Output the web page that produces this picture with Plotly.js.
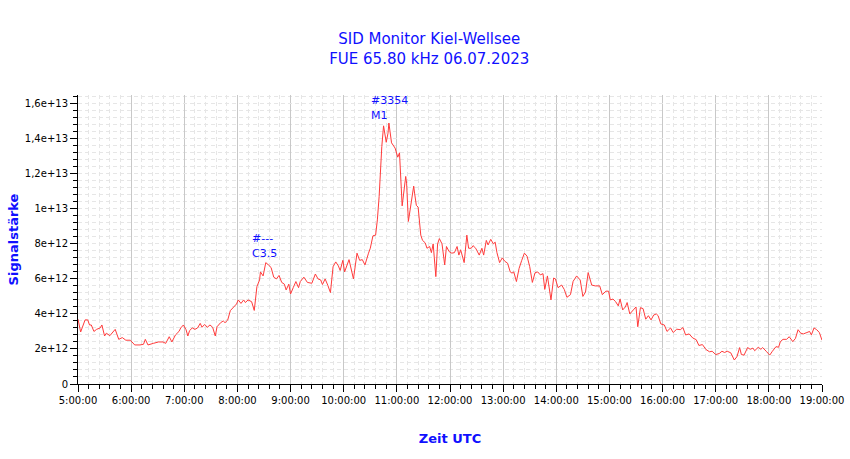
<!DOCTYPE html>
<html>
<head>
<meta charset="utf-8">
<script src="https://cdn.plot.ly/plotly-3.0.1.min.js"></script>
<style>html,body{margin:0;padding:0;background:#fff;}#chart{width:850px;height:459px;}</style>
</head>
<body>
<div id="chart"></div>
<script>
// time in minutes since 00:00 UTC, 06.07.2023
const minutes = [
300,303,308,311,313,315,318,321,325,327,330,332,336,339,342,346,350,354,359,361,364,370,374,376,379,385,391,396,399,403,406,410,414,416,419,422,424,426,429,432,435,438,440,443,446,449,452,455,457,461,464,466,469,472,475,479,481,484,487,489,492,496,499,502,505,506,509,512,515,518,521,524,527,530,533,535,538,540,543,546,549,
551,555,559,564,568,571,574,576,579,582,585,588,591,594,596,599,601,606,611,615,618,621,624,628,630,633,636,638,640,643,645,648,650,651,654,658,661,663,666,670,671,673,676,679,680,682,684,687,689,692,694,697,699,701,704,706,708,711,714,716,719,722,725,728,730,732,736,739,741,744,746,749,753,756,758,761,763,766,769,771,773,776,779,782,785,788,790,792,795,798,801,804,807,810,813,816,819,
822,825,827,830,832,834,837,839,842,846,849,852,856,859,863,867,870,873,876,880,884,889,892,896,899,901,904,907,910,912,915,918,920,923,927,930,932,935,938,941,944,947,950,953,955,958,962,965,969,972,976,980,983,986,990,994,998,1001,1005,1009,1013,1016,1020,1024,1027,1030,1033,1037,1041,1044,1047,1049,1052,1056,1059,1062,1064,1068,1071,1073,1077,1081,1084,1088,1091,1093,1096,1100,1103,1107,1110,1113,1116,1119,1123,1126,1128,1131,1134,1137,1140
];
// signal strength in units of 1e12
const valuesE12 = [
3.7,2.97,3.66,3.66,3.37,3.37,3.0,3.12,3.2,3.37,2.74,2.9,2.76,2.97,3.12,2.55,2.65,2.5,2.5,2.4,2.23,2.23,2.27,2.55,2.23,2.32,2.4,2.4,2.32,2.7,2.4,2.8,3.0,3.2,3.37,3.1,2.74,3.05,3.2,3.12,3.2,3.46,3.24,3.4,3.24,3.37,3.24,2.74,3.27,3.5,3.6,3.5,3.65,4.19,4.38,4.57,4.8,4.6,4.8,4.65,4.8,4.7,4.2,5.56,5.94,6.4,6.17,6.93,6.8,6.65,6.1,6.0,6.2,5.8,5.7,5.37,5.7,5.14,5.5,5.85,5.5,
5.85,6.1,5.8,5.75,6.28,6.0,5.94,5.68,6.0,5.64,5.22,6.7,6.97,6.74,6.48,7.06,6.4,7.1,6.0,7.47,7.06,7.1,6.8,7.47,7.75,8.46,8.5,9.37,10.7,13.56,14.74,13.8,14.32,14.9,13.77,13.47,12.95,13.2,10.17,11.85,11.47,9.28,10.4,11.3,10.9,10.2,10.1,8.5,8.2,8.06,7.75,7.85,7.5,8.0,6.13,8.0,8.3,8.0,6.8,7.85,7.56,7.47,7.5,7.85,7.36,7.66,6.93,8.5,7.75,7.75,7.9,7.75,7.36,7.75,7.36,8.2,7.94,8.26,8.0,8.1,7.5,6.93,7.2,7.0,6.9,6.4,6.33,6.4,5.85,6.6,7.06,7.47,7.3,6.7,5.8,6.35,6.4,
6.23,6.3,5.4,6.17,5.46,4.8,6.05,6.0,5.5,5.65,5.4,4.95,5.1,5.86,6.17,5.94,5.0,5.25,6.36,5.65,5.6,5.6,5.1,5.3,5.3,4.8,4.85,4.7,4.46,4.85,4.23,4.4,4.65,4.0,4.23,4.4,3.27,4.36,4.3,3.7,3.9,3.66,3.94,4.0,3.9,3.43,3.37,3.0,3.2,2.94,3.13,3.1,3.22,2.8,2.86,2.63,2.53,2.2,2.25,1.97,1.84,1.87,1.68,1.74,1.87,1.8,1.87,1.78,1.37,1.56,2.08,1.68,1.65,2.08,1.98,2.05,1.9,2.1,1.98,2.08,1.87,1.65,1.87,2.13,2.1,2.42,2.55,2.55,2.7,2.42,2.6,3.1,2.9,2.86,2.94,3.0,2.8,3.2,3.1,2.94,2.5
];
const yTickVals = [0,2e12,4e12,6e12,8e12,1e13,1.2e13,1.4e13,1.6e13];
const yTickText = ['0','2e+12','4e+12','6e+12','8e+12','1e+13','1,2e+13','1,4e+13','1,6e+13'];
// flare labels: start minute, value of upper line, lines
const flareMinutes = [494, 629];
const flareValues = [8.29e12, 16.17e12];
const flareIds = ['#---', '#3354'];
const flareClasses = ['C3.5', 'M1'];

function toTime(m) {
  const h = Math.floor(m / 60), mm = Math.round(m % 60);
  return '2023-07-06 ' + String(h).padStart(2,'0') + ':' + String(mm).padStart(2,'0') + ':00';
}
const xs = minutes.map(toTime);
const ys = valuesE12.map(v => v * 1e12);

const blue = '#1010ff';
const annotations = [];
flareMinutes.forEach((m, i) => {
  annotations.push({x: toTime(m), y: flareValues[i], xref:'x', yref:'y', text: flareIds[i], showarrow:false,
    xanchor:'left', yanchor:'middle', font:{family:'DejaVu Sans', size:11, color:blue}});
  annotations.push({x: toTime(m), y: flareValues[i] - 0.86e12, xref:'x', yref:'y', text: flareClasses[i], showarrow:false,
    xanchor:'left', yanchor:'middle', font:{family:'DejaVu Sans', size:11, color:blue}});
});

const trace = {x: xs, y: ys, type:'scatter', mode:'lines', line:{color:'#ff3b3b', width:1}, hoverinfo:'skip'};

const gridLight = '#e6e6e6';
const layout = {
  width: 850, height: 459,
  margin: {l:78, r:28, t:95, b:75},
  paper_bgcolor:'#fff', plot_bgcolor:'#fff',
  showlegend:false,
  title: {text:'SID Monitor Kiel-Wellsee<br>FUE 65.80 kHz 06.07.2023', xref:'container', x:0.505, xanchor:'center',
    yref:'container', y:1 - 44/459, yanchor:'middle', font:{family:'DejaVu Sans', size:15, color:blue}},
  xaxis: {
    type:'date', range:[toTime(300), toTime(1140)], dtick:3600000, tick0:toTime(300), tickformat:'%-H:%M:%S',
    showline:true, linecolor:'#000', linewidth:1, ticks:'outside', ticklen:7, tickcolor:'#000',
    tickfont:{family:'DejaVu Sans', size:10, color:'#000'},
    showgrid:true, gridcolor:'#c8c8c8', gridwidth:1, zeroline:false,
    minor:{dtick:720000, ticks:'outside', ticklen:4, tickcolor:'#000', showgrid:true, gridcolor:gridLight, griddash:'4px,3px'},
    title:{text:'Zeit UTC', font:{family:'DejaVu Sans', size:13, color:blue, weight:'bold'}, standoff:28},
    fixedrange:true
  },
  yaxis: {
    range:[0, 1.65e13], tickvals:yTickVals, ticktext:yTickText,
    showline:true, linecolor:'#000', linewidth:1, ticks:'outside', ticklen:7, tickcolor:'#000',
    tickfont:{family:'DejaVu Sans', size:10, color:'#000'},
    showgrid:true, gridcolor:gridLight, griddash:'4px,3px', zeroline:false,
    minor:{dtick:4e11, tick0:0, ticks:'outside', ticklen:4, tickcolor:'#000', showgrid:true, gridcolor:gridLight, griddash:'4px,3px'},
    title:{text:'Signalstärke', font:{family:'DejaVu Sans', size:13, color:blue, weight:'bold'}, standoff:3},
    fixedrange:true
  },
  annotations: annotations
};

Plotly.newPlot('chart', [trace], layout, {staticPlot:true, displayModeBar:false});
</script>
</body>
</html>
